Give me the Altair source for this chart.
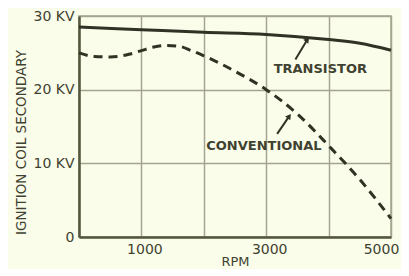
import altair as alt
import pandas as pd

rpm_t = [0, 1000, 2000, 3000, 4000, 4500, 5000]
kv_t = [28.5, 28.15, 27.8, 27.5, 26.8, 26.3, 25.35]

rpm_c = [0, 250, 500, 800, 1000, 1200, 1400, 1600, 1800, 2000, 2500, 3000, 3500, 4000, 4500, 5000]
kv_c = [25.0, 24.5, 24.45, 24.8, 25.3, 25.8, 26.0, 25.9, 25.3, 24.6, 22.5, 20.0, 16.7, 12.4, 7.8, 2.5]

x_ticks = [0, 1000, 2000, 3000, 4000, 5000]
y_ticks = [0, 5, 10, 15, 20, 25, 30]

labels = ["TRANSISTOR", "CONVENTIONAL"]
label_x = [3867, 2963]
label_y = [22.8, 12.4]

arrow_x = [3468, 3176]
arrow_y = [24.1, 14.0]
arrow_x2 = [3660, 3370]
arrow_y2 = [26.8, 16.4]
arrow_angle = [37, 35]

BG = "#fbfdeb"
GRID = "#a4a58e"
INK = "#2f3324"
TEXT = "#3f4230"
FONT = "DejaVu Sans"

df_t = pd.DataFrame({"rpm": rpm_t, "kv": kv_t})
df_c = pd.DataFrame({"rpm": rpm_c, "kv": kv_c})
df_l = pd.DataFrame({"label": labels, "x": label_x, "y": label_y})
df_a = pd.DataFrame({"x": arrow_x, "y": arrow_y, "x2": arrow_x2, "y2": arrow_y2, "angle": arrow_angle})

xscale = alt.Scale(domain=[0, 5000], nice=False)
yscale = alt.Scale(domain=[0, 30], nice=False)

xaxis = alt.Axis(
    values=x_ticks,
    labelExpr="datum.value == 1000 || datum.value == 3000 || datum.value == 5000 ? datum.label : ''",
    format="d",
    title="RPM",
    grid=True,
    ticks=False,
    labelPadding=5,
    titlePadding=-1,
    titleFontSize=13,
    labelOffset={"condition": {"test": "datum.value == 5000", "value": -10}, "value": 3},
)
yaxis = alt.Axis(
    values=y_ticks,
    labelExpr="datum.value == 0 ? '0' : (datum.value % 10 == 0 ? datum.value + ' KV' : '')",
    title="IGNITION COIL SECONDARY",
    grid=True,
    ticks=False,
    labelPadding=5,
    titleX=-58,
    titleY=126,
    titleAngle=270,
    titleAlign="center",
    titleBaseline="middle",
)

trans = alt.Chart(df_t).mark_line(color=INK, strokeWidth=3, interpolate="monotone").encode(
    x=alt.X("rpm:Q", scale=xscale, axis=xaxis),
    y=alt.Y("kv:Q", scale=yscale, axis=yaxis),
)

conv = alt.Chart(df_c).mark_line(color=INK, strokeWidth=3, strokeDash=[9, 6], interpolate="monotone").encode(
    x=alt.X("rpm:Q", scale=xscale),
    y=alt.Y("kv:Q", scale=yscale),
)

text = alt.Chart(df_l).mark_text(font=FONT, fontSize=13, fontWeight="bold", color=TEXT).encode(
    x=alt.X("x:Q", scale=xscale),
    y=alt.Y("y:Q", scale=yscale),
    text="label:N",
)

arrows = alt.Chart(df_a).mark_rule(color=INK, strokeWidth=2).encode(
    x=alt.X("x:Q", scale=xscale),
    y=alt.Y("y:Q", scale=yscale),
    x2="x2:Q",
    y2="y2:Q",
)

heads = alt.Chart(df_a).mark_point(shape="triangle-up", filled=True, color=INK, size=40, opacity=1).encode(
    x=alt.X("x2:Q", scale=xscale),
    y=alt.Y("y2:Q", scale=yscale),
    angle=alt.Angle("angle:Q", scale=None),
)

chart = alt.layer(trans, conv, arrows, heads, text).properties(
    width=312,
    height=221,
    background=BG,
    autosize=alt.AutoSizeParams(type="none"),
    padding={"left": 71, "top": 8, "right": 10, "bottom": 32},
).configure_view(
    stroke=GRID, strokeWidth=1.5
).configure_axis(
    gridColor=GRID,
    gridWidth=1.5,
    gridOpacity=1,
    domainColor="#55573e",
    domainWidth=2.5,
    labelFont=FONT,
    labelFontSize=14,
    labelColor=TEXT,
    titleFont=FONT,
    titleFontSize=13.5,
    titleFontWeight="normal",
    titleColor=TEXT,
    labelFlush=False,
)

chart.save("out.html", embed_options={"renderer": "svg", "actions": False})
